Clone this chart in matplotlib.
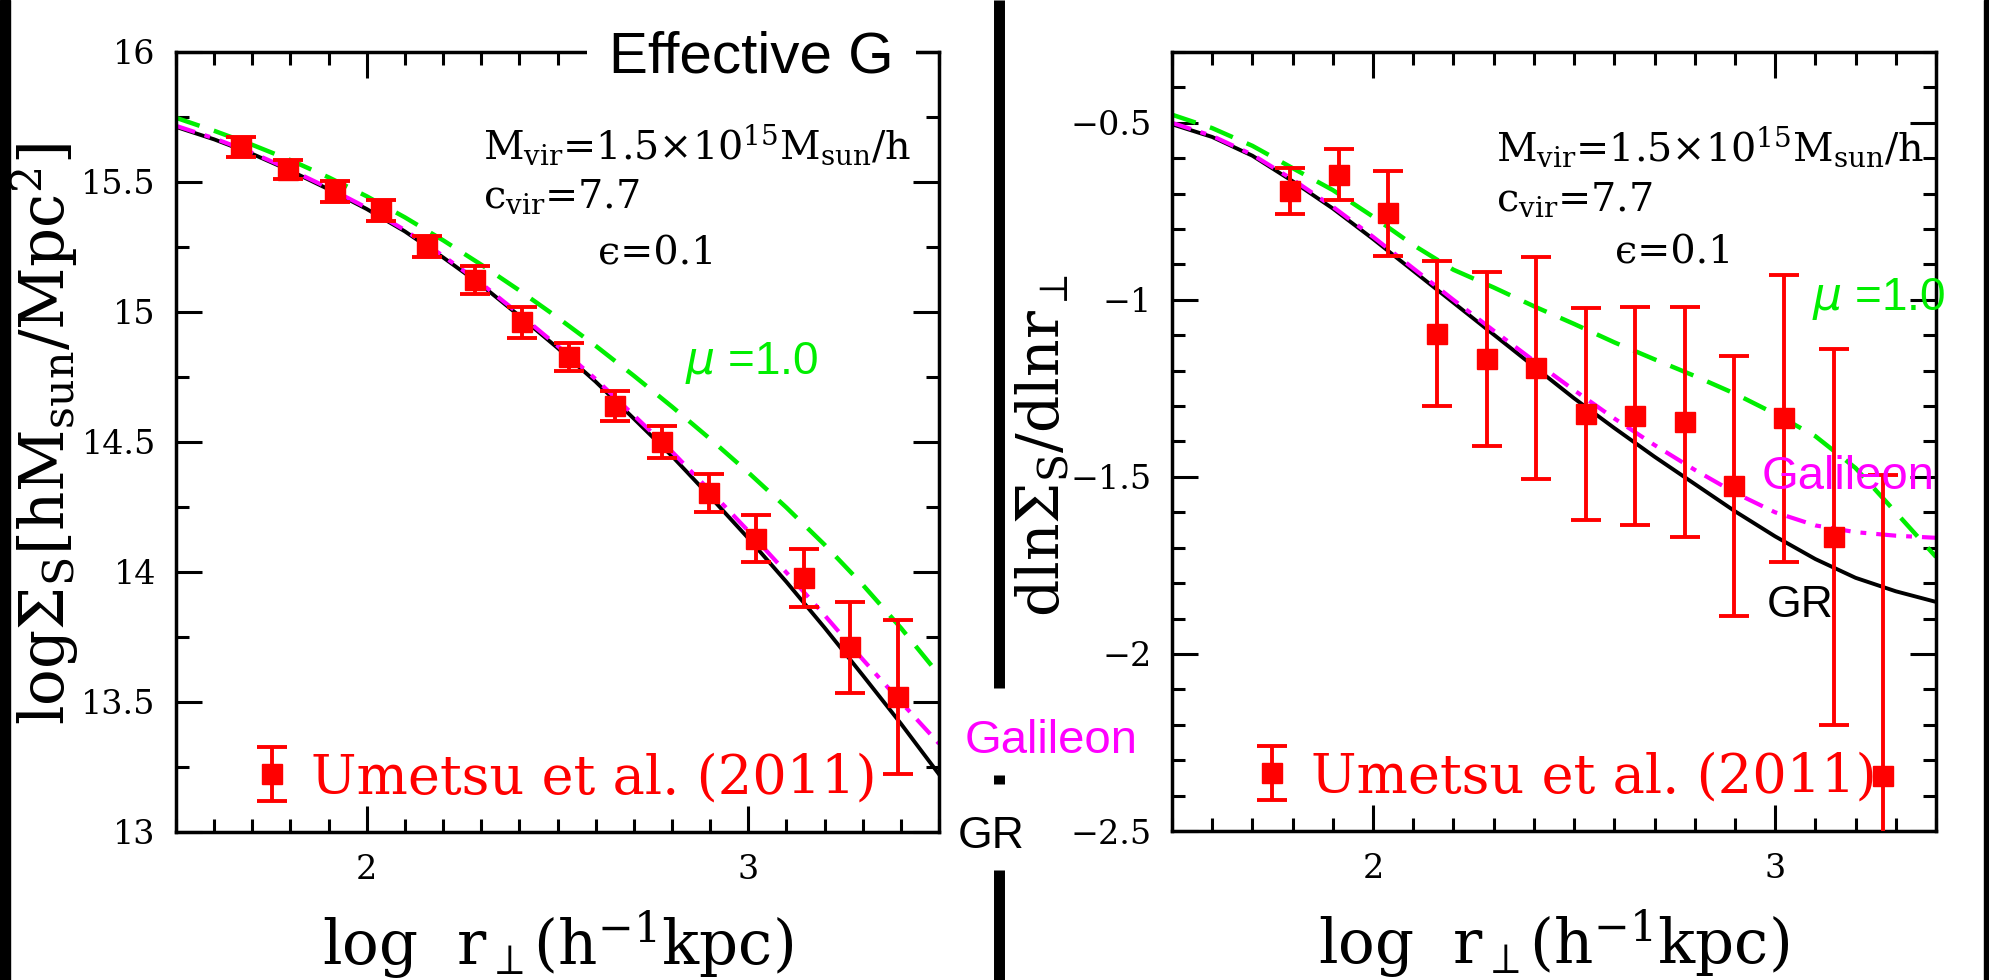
import matplotlib
matplotlib.use("Agg")
import matplotlib.pyplot as plt
from matplotlib.lines import Line2D
from matplotlib.patches import Rectangle
from matplotlib.ticker import MultipleLocator, FuncFormatter

plt.rcParams["font.family"] = ["DejaVu Serif", "DejaVu Sans"]
plt.rcParams["mathtext.fontset"] = "dejavuserif"

# ---------------- data ----------------
# Umetsu et al. (2011) measurements
r_obs = [1.670, 1.793, 1.916, 2.038, 2.158, 2.283, 2.406, 2.530, 2.652,
         2.775, 2.898, 3.021, 3.146, 3.268, 3.393]
sigma_obs = [15.634, 15.548, 15.463, 15.389, 15.251, 15.122, 14.960, 14.827,
             14.640, 14.500, 14.304, 14.128, 13.976, 13.710, 13.519]
sigma_err = [0.038, 0.038, 0.040, 0.040, 0.040, 0.054, 0.060, 0.053, 0.058,
             0.060, 0.073, 0.090, 0.112, 0.176, 0.295]

r_slope = [1.793, 1.916, 2.038, 2.158, 2.283, 2.406, 2.530, 2.652, 2.775,
           2.898, 3.021, 3.146, 3.268]
slope_obs = [-0.693, -0.646, -0.756, -1.095, -1.167, -1.192, -1.323, -1.328,
             -1.344, -1.525, -1.335, -1.671, -2.345]
slope_err = [0.064, 0.072, 0.120, 0.205, 0.247, 0.314, 0.300, 0.308, 0.325,
             0.367, 0.406, 0.531, 0.850]

# model profiles
r_model_left = [1.5, 1.6, 1.7, 1.8, 1.9, 2.0, 2.1, 2.2, 2.3, 2.4, 2.5,
                2.6, 2.7, 2.8, 2.9, 3.0, 3.1, 3.2, 3.3, 3.4, 3.5]
sigma_gr = [15.712, 15.664, 15.608, 15.543, 15.472, 15.396, 15.310, 15.210,
            15.104, 14.985, 14.862, 14.732, 14.590, 14.446, 14.290, 14.130,
            13.962, 13.786, 13.603, 13.417, 13.222]
sigma_gal = [15.716, 15.668, 15.612, 15.547, 15.477, 15.401, 15.315, 15.216,
             15.110, 14.992, 14.870, 14.742, 14.603, 14.463, 14.312, 14.158,
             13.998, 13.834, 13.664, 13.500, 13.340]
sigma_mu = [15.747, 15.697, 15.643, 15.584, 15.518, 15.445, 15.364, 15.276,
            15.182, 15.083, 14.979, 14.870, 14.755, 14.636, 14.512, 14.383,
            14.248, 14.105, 13.951, 13.785, 13.605]

r_model_right = [1.5, 1.6, 1.7, 1.8, 1.9, 2.0, 2.1, 2.2, 2.3, 2.4, 2.5,
                 2.6, 2.7, 2.8, 2.9, 3.0, 3.1, 3.2, 3.3, 3.4]
slope_gr = [-0.504, -0.540, -0.593, -0.665, -0.742, -0.828, -0.918, -1.008,
            -1.098, -1.188, -1.278, -1.362, -1.443, -1.520, -1.597, -1.668,
            -1.732, -1.785, -1.823, -1.853]
slope_gal = [-0.500, -0.537, -0.590, -0.660, -0.737, -0.822, -0.911, -1.000,
             -1.087, -1.172, -1.255, -1.335, -1.410, -1.480, -1.545, -1.600,
             -1.637, -1.656, -1.666, -1.672]
slope_mu = [-0.477, -0.515, -0.565, -0.628, -0.690, -0.765, -0.845, -0.915,
            -0.965, -1.018, -1.068, -1.120, -1.168, -1.215, -1.265, -1.322,
            -1.385, -1.475, -1.600, -1.726]

# ---------------- figure ----------------
W, H = 1989, 980
fig = plt.figure(figsize=(W / 100, H / 100), dpi=100)
fig.patch.set_facecolor("white")


def px_rect(x0, y0, x1, y1):
    return [x0 / W, 1 - y1 / H, (x1 - x0) / W, (y1 - y0) / H]


axL = fig.add_axes(px_rect(176, 52, 939, 832))
axR = fig.add_axes(px_rect(1172, 52, 1936, 831))

SANS = ["Liberation Sans", "DejaVu Sans"]
SERIF = ["DejaVu Serif", "DejaVu Sans"]
RED = "#ff0000"
MAGENTA = "#ff00ff"
GREEN = "#00ee00"


def minus_fmt(v, p):
    return ("%g" % v).replace("-", "\u2212")


def style_axes(ax, ymajor, yminor):
    ax.xaxis.set_major_locator(MultipleLocator(1))
    ax.xaxis.set_minor_locator(MultipleLocator(0.1))
    ax.yaxis.set_major_locator(MultipleLocator(ymajor))
    ax.yaxis.set_minor_locator(MultipleLocator(yminor))
    ax.xaxis.set_major_formatter(FuncFormatter(minus_fmt))
    ax.yaxis.set_major_formatter(FuncFormatter(minus_fmt))
    ax.tick_params(which="both", direction="in", top=True, right=True,
                   width=2.2, color="black")
    ax.tick_params(which="major", length=18.5)
    ax.tick_params(which="minor", length=9.5)
    ax.tick_params(axis="x", which="major", labelsize=24, pad=16)
    ax.tick_params(axis="y", which="major", labelsize=24, pad=14.5)
    for s in ax.spines.values():
        s.set_linewidth(2.5)


def draw_panel(ax, rm, gr, gal, mu, rx, ry, ey):
    ax.plot(rm, gr, color="black", lw=2.8, zorder=2)
    ax.plot(rm, gal, color=MAGENTA, lw=3.0, dashes=(4.8, 2.4, 1.4, 2.4), zorder=2)
    ax.plot(rm, mu, color=GREEN, lw=3.2, dashes=(5.6, 3.4), zorder=2)
    ax.errorbar(rx, ry, yerr=ey, fmt="s", color=RED, ms=14.5,
                elinewidth=2.8, capsize=10.5, capthick=2.8, zorder=5,
                label="Umetsu et al. (2011)")


# ---- left panel: surface density ----
draw_panel(axL, r_model_left, sigma_gr, sigma_gal, sigma_mu,
           r_obs, sigma_obs, sigma_err)
axL.set_xlim(1.5, 3.5)
axL.set_ylim(13, 16)
style_axes(axL, 0.5, 0.25)

# ---- right panel: logarithmic slope ----
draw_panel(axR, r_model_right, slope_gr, slope_gal, slope_mu,
           r_slope, slope_obs, slope_err)
axR.set_xlim(1.5, 3.4)
axR.set_ylim(-2.5, -0.3)
style_axes(axR, 0.5, 0.1)

# axis labels
xlab = r"$\mathrm{log\ \ r_{\perp}(h^{-1}kpc)}$"
for ax in (axL, axR):
    ax.set_xlabel(xlab, fontsize=44)
    ax.xaxis.set_label_coords(0.5, -0.145)
    ax.xaxis.label.set_va("center")

axL.set_ylabel(r"$\mathrm{log\Sigma_S[hM_{sun}/Mpc^2]}$", fontsize=44)
axL.yaxis.set_label_coords(-0.172, 0.51)
axL.yaxis.label.set_va("center")
axR.set_ylabel(r"$\mathrm{dln\Sigma_S/dlnr_{\perp}}$", fontsize=42)
axR.yaxis.set_label_coords(-0.169, 0.495)
axR.yaxis.label.set_va("center")

# legends
for ax, ax_x in ((axL, 0.0917), (axR, 0.097)):
    ax.legend(loc="center left", bbox_to_anchor=(ax_x, 0.069), frameon=False,
              prop={"family": "DejaVu Serif", "size": 39}, handlelength=0.95,
              handletextpad=0.25, borderpad=0, borderaxespad=0,
              labelcolor=RED)

# parameter annotations
params = [r"M$_{\rm vir}$=1.5×10$^{15}$M$_{\rm sun}$/h",
          r"c$_{\rm vir}$=7.7",
          "\u03f5=0.1"]
for ax, xs, ys in ((axL, (0.402, 0.402, 0.553), (0.864, 0.800, 0.728)),
                   (axR, (0.424, 0.424, 0.580), (0.861, 0.796, 0.728))):
    for s, xx, yy in zip(params, xs, ys):
        ax.text(xx, yy, s, transform=ax.transAxes, fontsize=28.5, family=SERIF,
                ha="left", va="baseline", zorder=6)

# curve labels
axL.text(0.667, 0.587, r"$\mu$ =1.0", transform=axL.transAxes, color=GREEN,
         fontsize=33, family=SANS, math_fontfamily="dejavusans",
         ha="left", va="baseline")
axR.text(0.838, 0.669, r"$\mu$ =1.0", transform=axR.transAxes, color=GREEN,
         fontsize=33, family=SANS, math_fontfamily="dejavusans",
         ha="left", va="baseline", clip_on=False, zorder=6)
axR.text(0.772, 0.439, "Galileon", transform=axR.transAxes, color=MAGENTA,
         fontsize=34, family=SANS, ha="left", va="baseline", zorder=6)
axR.text(0.779, 0.275, "GR", transform=axR.transAxes, color="black",
         fontsize=32, family=SANS, ha="left", va="baseline", zorder=6)

axL.text(0.5675, 0.974, "Effective G", transform=axL.transAxes,
         fontsize=42, family=SANS, ha="left", va="baseline",
         bbox=dict(boxstyle="square,pad=0.38", fc="white", ec="none"),
         zorder=10, clip_on=False)

fig.text(965 / W, 1 - 753 / H, "Galileon", color=MAGENTA, fontsize=34,
         family=SANS, ha="left", va="baseline", zorder=5)
fig.text(958 / W, 1 - 848 / H, "GR", color="black", fontsize=32,
         family=SANS, ha="left", va="baseline", zorder=5)

# divider between the panels, interrupted by the end labels
for y0, y1 in ((0, 688), (775, 784), (870, 980)):
    fig.add_artist(Line2D([998.5 / W, 998.5 / W], [1 - y0 / H, 1 - y1 / H],
                          transform=fig.transFigure, color="black", lw=7.9,
                          solid_capstyle="butt", zorder=3))

# dark frame edges
fig.add_artist(Rectangle((0, 0), 10 / W, 1, transform=fig.transFigure,
                         color="black", zorder=3))
fig.add_artist(Rectangle((1984 / W, 0), 5 / W, 1, transform=fig.transFigure,
                         color="black", zorder=3))

fig.savefig("out.png", dpi=100)
